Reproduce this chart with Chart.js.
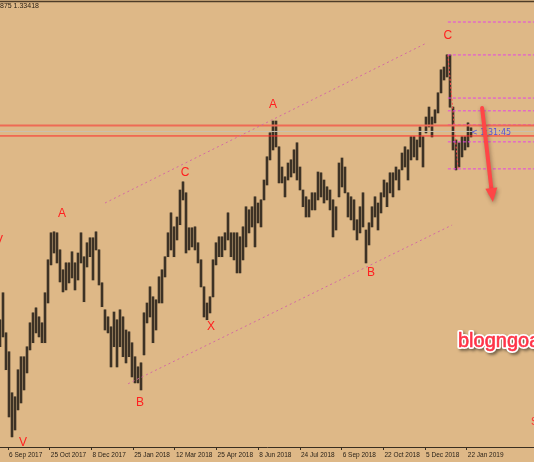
<!DOCTYPE html>
<html>
<head>
<meta charset="utf-8">
<script src="https://cdn.jsdelivr.net/npm/chart.js@4.4.1/dist/chart.umd.min.js"></script>
<style>
  html, body { margin: 0; padding: 0; background: #deb887; }
  #wrap { width: 534px; height: 462px; }
</style>
</head>
<body>
<div id="wrap"><canvas id="chart" width="534" height="462"></canvas></div>
<script>
// USDCAD daily, highs/lows (one bar per ~3px column)
const highs = [
  1.2547,1.2661,1.2492,1.2412,1.2239,1.2222,1.2336,1.2391,1.2391,1.2433,
  1.2534,1.2576,1.2597,1.2559,1.2534,1.2661,1.2800,1.2914,1.2918,1.2914,
  1.2842,1.2758,1.2787,1.2787,1.2834,1.2787,1.2829,1.2914,1.2813,1.2872,
  1.2893,1.2893,1.2918,1.2842,1.2703,1.2589,1.2559,1.2517,1.2580,1.2547,
  1.2589,1.2559,1.2504,1.2496,1.2450,1.2391,1.2348,1.2365,1.2576,1.2618,
  1.2686,1.2644,1.2631,1.2728,1.2758,1.2813,1.2914,1.2998,1.2939,1.2981,
  1.3095,1.3129,1.3083,1.2935,1.2935,1.2939,1.2872,1.2800,1.2686,1.2618,
  1.2644,1.2800,1.2872,1.2897,1.2897,1.2914,1.2998,1.2914,1.2914,1.2914,
  1.2897,1.2939,1.3024,1.3011,1.3024,1.3066,1.3040,1.3053,1.3137,1.3235,
  1.3336,1.3386,1.3386,1.3277,1.3192,1.3150,1.3209,1.3222,1.3264,1.3294,
  1.3192,1.3095,1.3066,1.3053,1.3083,1.3083,1.3171,1.3167,1.3137,1.3108,
  1.3095,1.3053,1.3024,1.3209,1.3230,1.3192,1.3083,1.3066,1.3053,1.2969,
  1.3024,1.3083,1.2926,1.2956,1.3024,1.3066,1.3040,1.3083,1.3137,1.3125,
  1.3167,1.3167,1.3192,1.3180,1.3251,1.3277,1.3264,1.3319,1.3319,1.3306,
  1.3361,1.3319,1.3403,1.3445,1.3403,1.3433,1.3505,1.3602,1.3614,1.3665,
  1.3665,1.3445,1.3306,1.3294,1.3319,1.3319,1.3378,1.3357
];
const lows = [
  1.2433,1.2475,1.2336,1.2137,1.2053,1.2082,1.2167,1.2196,1.2251,1.2323,
  1.2420,1.2450,1.2492,1.2475,1.2450,1.2450,1.2618,1.2779,1.2829,1.2787,
  1.2707,1.2665,1.2673,1.2703,1.2724,1.2673,1.2715,1.2787,1.2623,1.2770,
  1.2813,1.2715,1.2842,1.2694,1.2602,1.2504,1.2492,1.2348,1.2433,1.2348,
  1.2433,1.2391,1.2365,1.2391,1.2306,1.2281,1.2281,1.2251,1.2399,1.2534,
  1.2559,1.2450,1.2504,1.2618,1.2618,1.2728,1.2813,1.2842,1.2813,1.2884,
  1.2948,1.3053,1.2829,1.2842,1.2855,1.2842,1.2787,1.2686,1.2559,1.2547,
  1.2576,1.2644,1.2779,1.2813,1.2813,1.2842,1.2884,1.2813,1.2800,1.2745,
  1.2745,1.2800,1.2855,1.2914,1.2939,1.2855,1.2956,1.2939,1.3053,1.3116,
  1.3222,1.3264,1.3277,1.3125,1.3125,1.3066,1.3137,1.3150,1.3167,1.3137,
  1.3095,1.3024,1.2981,1.2981,1.3011,1.3011,1.3053,1.3066,1.3040,1.3053,
  1.3011,1.2897,1.2926,1.3066,1.3108,1.3083,1.2981,1.2969,1.2926,1.2884,
  1.2914,1.2939,1.2787,1.2863,1.2939,1.2981,1.2926,1.2998,1.3066,1.3024,
  1.3083,1.3066,1.3137,1.3095,1.3180,1.3192,1.3137,1.3222,1.3235,1.3222,
  1.3277,1.3192,1.3336,1.3361,1.3319,1.3378,1.3420,1.3505,1.3559,1.3572,
  1.3445,1.3264,1.3180,1.3192,1.3235,1.3264,1.3277,1.3319
];

// time axis labels (position in bar units)
const tickIdx = [2.7, 16.6, 30.5, 44.4, 58.3, 72.2, 86.1, 100, 113.9, 127.8, 141.7, 155.6];
const tickLabels = ["6 Sep 2017", "25 Oct 2017", "8 Dec 2017", "25 Jan 2018", "12 Mar 2018", "25 Apr 2018",
                    "8 Jun 2018", "24 Jul 2018", "6 Sep 2018", "22 Oct 2018", "5 Dec 2018", "22 Jan 2019"];

// wave count labels
const waveText  = ["V", "A", "B", "C", "X", "A", "B", "C", "V"];
const waveIdx   = [-0.3, 20.7, 46.7, 61.7, 70.3, 91, 123.7, 149.3, 7.7];
const wavePrice = [1.2880, 1.2996, 1.2196, 1.3169, 1.2517, 1.3454, 1.2745, 1.3747, 1.2028];

// drawn objects
const fibLevels = [1.3804, 1.3665, 1.3483, 1.3429, 1.3370, 1.3298, 1.3184];
const redLevels = [1.3367, 1.3323];
const bidPrice = 1.3342;
const channelUpper = [[35, 1.3040], [142.3, 1.3716]];
const channelLower = [[42.7, 1.2277], [150.7, 1.2947]];
const fibTrend = [[149.3, 1.3665], [152.7, 1.3184]];
const arrowFrom = [160.7, 1.3441];
const arrowTo = [164.3, 1.3044];

const X_MAX = 178;

function seg(pts, color, width, dash) {
  return {
    type: "line",
    data: pts.map(p => ({ x: p[0], y: p[1] })),
    borderColor: color,
    borderWidth: width,
    borderDash: dash || [],
    pointRadius: 0,
    fill: false,
    order: 1
  };
}

const barData = highs.map((h, i) => ({ x: i, y: [lows[i], h] }));
const datasets = [{
  type: "bar",
  data: barData,
  backgroundColor: "rgba(105,90,68,0.55)",
  barThickness: 3,
  order: 6
}, {
  type: "bar",
  data: barData,
  backgroundColor: "rgba(42,34,25,0.9)",
  barThickness: 1.2,
  grouped: false,
  order: 5
}];
datasets[0].grouped = false;
datasets.push(seg(channelUpper, "#d36aa3", 1, [2, 3]));
datasets.push(seg(channelLower, "#d36aa3", 1, [2, 3]));
datasets.push(seg([[0, bidPrice], [X_MAX, bidPrice]], "#c9c0b2", 1));
datasets.push(seg([[0, redLevels[0]], [X_MAX, redLevels[0]]], "#ee6a55", 2));
datasets.push(seg([[0, redLevels[1]], [X_MAX, redLevels[1]]], "#ff2a2a", 1));
fibLevels.forEach(l => datasets.push(seg([[149.3, l], [X_MAX, l]], "#e444e4", 1, [3, 2])));
datasets.push(seg(fibTrend, "#ff4a4a", 1, [2, 2]));

const overlay = {
  id: "overlay",
  beforeDraw(chart) {
    const ctx = chart.ctx;
    ctx.save();
    ctx.strokeStyle = "#4e3c28";
    ctx.lineWidth = 1.5;
    ctx.beginPath();
    ctx.moveTo(0, 1.5);
    ctx.lineTo(chart.width, 1.5);
    ctx.stroke();
    ctx.fillStyle = "#2b2116";
    ctx.font = '7px "Liberation Sans"';
    ctx.textBaseline = "middle";
    ctx.fillText("875 1.33418", 0, 6.5);
    ctx.restore();
  },
  afterDatasetsDraw(chart) {
    const ctx = chart.ctx;
    const xs = chart.scales.x, ys = chart.scales.y;
    ctx.save();

    // wave labels
    ctx.font = '12px "Liberation Sans"';
    ctx.fillStyle = "#ff2020";
    ctx.textAlign = "center";
    ctx.textBaseline = "middle";
    waveText.forEach((t, k) => {
      ctx.fillText(t, xs.getPixelForValue(waveIdx[k]), ys.getPixelForValue(wavePrice[k]));
    });

    // countdown next to the last bar
    ctx.font = '8px "DejaVu Sans"';
    ctx.fillStyle = "#5656d6";
    ctx.textAlign = "left";
    ctx.fillText("< 1:31:45", xs.getPixelForValue(157), ys.getPixelForValue(1.3334));

    // forecast arrow
    const x0 = xs.getPixelForValue(arrowFrom[0]), y0 = ys.getPixelForValue(arrowFrom[1]);
    const x1 = xs.getPixelForValue(arrowTo[0]), y1 = ys.getPixelForValue(arrowTo[1]);
    const ang = Math.atan2(y1 - y0, x1 - x0);
    const hl = 14, hw = 6;
    const bx = x1 - hl * Math.cos(ang), by = y1 - hl * Math.sin(ang);
    ctx.shadowColor = "rgba(60,30,20,0.45)";
    ctx.shadowBlur = 4;
    ctx.shadowOffsetX = 1;
    ctx.shadowOffsetY = 2;
    ctx.strokeStyle = "#ff4646";
    ctx.fillStyle = "#ff4646";
    ctx.lineWidth = 4;
    ctx.lineCap = "round";
    ctx.beginPath();
    ctx.moveTo(x0, y0);
    ctx.lineTo(bx, by);
    ctx.stroke();
    ctx.beginPath();
    ctx.moveTo(x1, y1);
    ctx.lineTo(bx + hw * Math.sin(ang), by - hw * Math.cos(ang));
    ctx.lineTo(bx - hw * Math.sin(ang), by + hw * Math.cos(ang));
    ctx.closePath();
    ctx.fill();

    // watermark
    ctx.font = '20px "Liberation Sans"';
    ctx.textAlign = "left";
    ctx.textBaseline = "alphabetic";
    ctx.shadowColor = "rgba(0,0,0,0.45)";
    ctx.shadowBlur = 3;
    ctx.shadowOffsetX = 2;
    ctx.shadowOffsetY = 2;
    ctx.lineJoin = "round";
    ctx.lineWidth = 4;
    ctx.strokeStyle = "#ffffff";
    ctx.strokeText("blogngoaihoi", 458, 347);
    ctx.shadowColor = "transparent";
    ctx.fillStyle = "#ff3347";
    ctx.lineWidth = 0.6;
    ctx.strokeStyle = "#ff3347";
    ctx.strokeText("blogngoaihoi", 458, 347);
    ctx.fillText("blogngoaihoi", 458, 347);

    ctx.font = '10px "Liberation Sans"';
    ctx.fillStyle = "#ff3030";
    ctx.textBaseline = "middle";
    ctx.fillText("S", 531, 422);
    ctx.restore();
  }
};

new Chart(document.getElementById("chart"), {
  type: "bar",
  data: { datasets },
  plugins: [overlay],
  options: {
    responsive: false,
    animation: false,
    devicePixelRatio: 1,
    layout: { padding: { top: 4, left: 0, right: 0, bottom: 0 } },
    plugins: { legend: { display: false }, tooltip: { enabled: false } },
    scales: {
      x: {
        type: "linear",
        min: 0,
        max: X_MAX,
        offset: false,
        afterBuildTicks: axis => { axis.ticks = tickIdx.map(v => ({ value: v })); },
        afterFit: axis => { axis.height = 15; },
        grid: { drawOnChartArea: false, drawTicks: true, tickLength: 3, color: "#3a2e20", offset: false },
        border: { display: true, color: "#3a2e20", width: 1 },
        ticks: {
          autoSkip: false,
          maxRotation: 0,
          minRotation: 0,
          align: "start",
          labelOffset: 1,
          padding: 1,
          color: "#2a2218",
          font: { family: "Liberation Sans", size: 6.5 },
          callback: (v, i) => tickLabels[i]
        }
      },
      y: { display: false, min: 1.2010, max: 1.3880 }
    }
  }
});
</script>
</body>
</html>
